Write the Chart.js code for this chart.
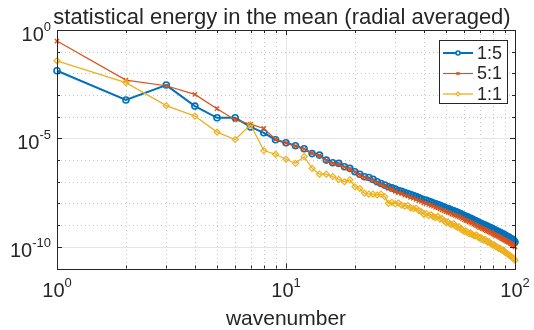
<!DOCTYPE html>
<html>
<head>
<meta charset="utf-8">
<script src="https://cdn.jsdelivr.net/npm/chart.js@4.4.1/dist/chart.umd.min.js"></script>
<style>
  html, body { margin: 0; padding: 0; background: #fff; }
  #wrap { width: 534px; height: 330px; }
</style>
</head>
<body>
<div id="wrap"><canvas id="spectrumChart" width="534" height="330"></canvas></div>
<script>
// wavenumbers 1..100
const wavenumber = Array.from({ length: 100 }, (_, i) => i + 1);

// log10 of the energy
const ratio15Exp = [
  -1.88, -3.23, -2.54, -3.51, -4.05, -4.05, -4.47, -4.74, -5.06, -5.20,
  -5.34, -5.48, -5.70, -5.77, -6.00, -6.12, -6.15, -6.31, -6.38, -6.54,
  -6.65, -6.77, -6.80, -6.89, -7.00, -7.08, -7.15, -7.23, -7.28, -7.34,
  -7.40, -7.44, -7.50, -7.54, -7.59, -7.63, -7.68, -7.73, -7.78, -7.83,
  -7.86, -7.90, -7.94, -7.98, -8.02, -8.05, -8.09, -8.13, -8.17, -8.21,
  -8.24, -8.27, -8.31, -8.34, -8.37, -8.41, -8.44, -8.48, -8.52, -8.56,
  -8.59, -8.62, -8.66, -8.69, -8.72, -8.76, -8.79, -8.82, -8.86, -8.90,
  -8.92, -8.95, -8.98, -9.00, -9.03, -9.06, -9.09, -9.12, -9.14, -9.17,
  -9.20, -9.23, -9.26, -9.28, -9.31, -9.34, -9.36, -9.39, -9.42, -9.45,
  -9.48, -9.51, -9.53, -9.56, -9.59, -9.62, -9.65, -9.68, -9.72, -9.78
];
const ratio51Exp = [
  -0.51, -2.31, -2.57, -2.97, -3.63, -4.15, -4.34, -4.54, -5.04, -5.20,
  -5.37, -5.49, -5.68, -5.80, -6.02, -6.15, -6.21, -6.33, -6.42, -6.56,
  -6.70, -6.80, -6.86, -6.95, -7.05, -7.14, -7.21, -7.30, -7.36, -7.44,
  -7.50, -7.55, -7.62, -7.66, -7.72, -7.76, -7.81, -7.87, -7.91, -7.97,
  -8.00, -8.05, -8.09, -8.13, -8.18, -8.21, -8.25, -8.30, -8.33, -8.38,
  -8.41, -8.44, -8.49, -8.52, -8.55, -8.59, -8.62, -8.66, -8.70, -8.75,
  -8.78, -8.81, -8.85, -8.88, -8.91, -8.96, -8.99, -9.02, -9.06, -9.10,
  -9.12, -9.16, -9.19, -9.21, -9.25, -9.28, -9.31, -9.34, -9.36, -9.40,
  -9.43, -9.46, -9.49, -9.51, -9.54, -9.57, -9.60, -9.63, -9.66, -9.69,
  -9.72, -9.75, -9.77, -9.80, -9.83, -9.86, -9.89, -9.92, -9.95, -10.00
];
const ratio11Exp = [
  -1.42, -2.43, -3.49, -3.97, -4.71, -5.05, -4.37, -5.56, -5.73, -5.96,
  -6.15, -5.84, -6.38, -6.65, -6.65, -6.76, -6.89, -7.00, -6.91, -7.23,
  -7.31, -7.52, -7.57, -7.57, -7.61, -7.57, -7.69, -8.00, -7.95, -8.02,
  -7.98, -8.08, -8.12, -8.10, -8.20, -8.24, -8.22, -8.33, -8.38, -8.50,
  -8.47, -8.56, -8.52, -8.61, -8.66, -8.60, -8.72, -8.70, -8.80, -8.88,
  -8.85, -8.94, -8.98, -8.93, -9.05, -9.10, -9.07, -9.18, -9.22, -9.30,
  -9.26, -9.33, -9.39, -9.36, -9.44, -9.47, -9.50, -9.46, -9.55, -9.60,
  -9.58, -9.66, -9.69, -9.65, -9.74, -9.78, -9.76, -9.84, -9.86, -9.92,
  -9.90, -9.97, -10.00, -10.03, -10.08, -10.06, -10.13, -10.17, -10.15, -10.23,
  -10.26, -10.30, -10.33, -10.37, -10.40, -10.44, -10.48, -10.52, -10.55, -10.62
];

const seriesNames = ['1:5', '5:1', '1:1'];

// ticks
const xMajorTicks = [1, 10, 100];
const xTickExponents = ['0', '1', '2'];
const xMinorTicks = [2, 3, 4, 5, 6, 7, 8, 9, 20, 30, 40, 50, 60, 70, 80, 90];
const yMajorTicks = [1e0, 1e-5, 1e-10];
const yTickExponents = ['0', '-5', '-10'];
const yMinorTicks = [1e-1, 1e-2, 1e-3, 1e-4, 1e-6, 1e-7, 1e-8, 1e-9, 1e-11];

const textColor = '#262626';
const fontFamily = '"Liberation Sans", Arial, Helvetica, sans-serif';

function toPoints(exps) {
    return exps.map((e, i) => ({ x: wavenumber[i], y: Math.pow(10, e) }));
}

// "10" with a raised exponent, like matlab tick labels
function drawPower(ctx, exp, x, baseY, align) {
    ctx.font = '20px ' + fontFamily;
    const wb = ctx.measureText('10').width;
    ctx.font = '13px ' + fontFamily;
    const we = ctx.measureText(exp).width;
    let left = x;
    if (align === 'right') left = x - wb - we;
    if (align === 'center') left = x - (wb + we) / 2;
    ctx.fillStyle = textColor;
    ctx.textAlign = 'left';
    ctx.textBaseline = 'alphabetic';
    ctx.font = '20px ' + fontFamily;
    ctx.fillText('10', left, baseY);
    ctx.font = '13px ' + fontFamily;
    ctx.fillText(exp, left + wb, baseY - 10);
}

const axesPlugin = {
    id: 'matlabAxes',
    beforeDatasetsDraw(chart) {
        const { ctx, chartArea: a, scales: { x, y } } = chart;
        ctx.save();
        // minor grid, dotted
        ctx.strokeStyle = 'rgba(0,0,0,0.22)';
        ctx.lineWidth = 1;
        ctx.setLineDash([1, 3]);
        ctx.beginPath();
        xMinorTicks.forEach(v => {
            const px = Math.round(x.getPixelForValue(v)) + 0.5;
            ctx.moveTo(px, a.top); ctx.lineTo(px, a.bottom);
        });
        yMinorTicks.forEach(v => {
            const py = Math.round(y.getPixelForValue(v)) + 0.5;
            ctx.moveTo(a.left, py); ctx.lineTo(a.right, py);
        });
        ctx.stroke();
        // major grid, solid light
        ctx.setLineDash([]);
        ctx.strokeStyle = '#e4e4e4';
        ctx.beginPath();
        xMajorTicks.forEach(v => {
            const px = Math.round(x.getPixelForValue(v)) + 0.5;
            ctx.moveTo(px, a.top); ctx.lineTo(px, a.bottom);
        });
        yMajorTicks.forEach(v => {
            const py = Math.round(y.getPixelForValue(v)) + 0.5;
            ctx.moveTo(a.left, py); ctx.lineTo(a.right, py);
        });
        ctx.stroke();
        ctx.restore();
    },
    afterDatasetsDraw(chart) {
        const { ctx, chartArea: a, scales: { x, y } } = chart;
        ctx.save();
        ctx.strokeStyle = textColor;
        ctx.lineWidth = 1;
        // box
        ctx.strokeRect(Math.round(a.left) + 0.5, Math.round(a.top) + 0.5,
            Math.round(a.right - a.left), Math.round(a.bottom - a.top));
        // inward ticks on all sides
        ctx.beginPath();
        const xTick = (v, len) => {
            const px = Math.round(x.getPixelForValue(v)) + 0.5;
            ctx.moveTo(px, a.bottom); ctx.lineTo(px, a.bottom - len);
            ctx.moveTo(px, a.top); ctx.lineTo(px, a.top + len);
        };
        const yTick = (v, len) => {
            const py = Math.round(y.getPixelForValue(v)) + 0.5;
            ctx.moveTo(a.left, py); ctx.lineTo(a.left + len, py);
            ctx.moveTo(a.right, py); ctx.lineTo(a.right - len, py);
        };
        xMajorTicks.forEach(v => xTick(v, 5));
        xMinorTicks.forEach(v => xTick(v, 3));
        yMajorTicks.forEach(v => yTick(v, 5));
        yMinorTicks.forEach(v => yTick(v, 3));
        ctx.stroke();

        // tick labels
        xMajorTicks.forEach((v, i) => drawPower(ctx, xTickExponents[i], x.getPixelForValue(v), a.bottom + 28, 'center'));
        yMajorTicks.forEach((v, i) => drawPower(ctx, yTickExponents[i], a.left - 6, y.getPixelForValue(v) + 10.5, 'right'));

        // title and axis label
        ctx.fillStyle = textColor;
        ctx.textAlign = 'center';
        ctx.textBaseline = 'alphabetic';
        ctx.font = '22px ' + fontFamily;
        ctx.fillText('statistical energy in the mean (radial averaged)', 282, 24);
        ctx.font = '21px ' + fontFamily;
        ctx.fillText('wavenumber', (a.left + a.right) / 2, 325);

        // legend box
        const lx = 439.5, ly = 40.5, lw = 68, lh = 63;
        ctx.fillStyle = '#fff';
        ctx.fillRect(lx, ly, lw, lh);
        ctx.strokeStyle = textColor;
        ctx.lineWidth = 1;
        ctx.strokeRect(lx, ly, lw, lh);
        const rows = [53, 73.5, 94];
        chart.data.datasets.forEach((ds, i) => {
            const ry = rows[i];
            ctx.strokeStyle = ds.borderColor;
            ctx.lineWidth = ds.borderWidth;
            ctx.beginPath();
            ctx.moveTo(443, ry); ctx.lineTo(473, ry);
            ctx.stroke();
            ctx.strokeStyle = ds.borderColor;
            ctx.fillStyle = '#fff';
            ctx.lineWidth = ds.pointBorderWidth;
            Chart.helpers.drawPoint(ctx, {
                pointStyle: ds.pointStyle,
                radius: 2,
                borderWidth: ds.pointBorderWidth,
                rotation: 0
            }, 458, ry);
            ctx.fillStyle = textColor;
            ctx.textAlign = 'left';
            ctx.textBaseline = 'middle';
            ctx.font = '18px ' + fontFamily;
            ctx.fillText(ds.label, 477, ry + 1);
        });
        ctx.restore();
    }
};

new Chart(document.getElementById('spectrumChart'), {
    type: 'line',
    data: {
        datasets: [
            {
                label: seriesNames[0],
                data: toPoints(ratio15Exp),
                borderColor: '#0072BD',
                backgroundColor: 'rgba(0,0,0,0)',
                borderWidth: 2,
                pointStyle: 'circle',
                pointRadius: 3,
                pointBorderWidth: 1.6,
                pointBorderColor: '#0072BD',
                pointBackgroundColor: 'rgba(0,0,0,0)',
                order: 3,
                clip: false
            },
            {
                label: seriesNames[1],
                data: toPoints(ratio51Exp),
                borderColor: '#D95319',
                backgroundColor: 'rgba(0,0,0,0)',
                borderWidth: 1.2,
                pointStyle: 'crossRot',
                pointRadius: 3,
                pointBorderWidth: 1.3,
                pointBorderColor: '#D95319',
                order: 2,
                clip: false
            },
            {
                label: seriesNames[2],
                data: toPoints(ratio11Exp),
                borderColor: '#EDB120',
                backgroundColor: 'rgba(0,0,0,0)',
                borderWidth: 1.3,
                pointStyle: 'rectRot',
                pointRadius: 3,
                pointBorderWidth: 1.2,
                pointBorderColor: '#EDB120',
                pointBackgroundColor: 'rgba(0,0,0,0)',
                order: 1,
                clip: false
            }
        ]
    },
    options: {
        responsive: false,
        animation: false,
        devicePixelRatio: 1,
        layout: { padding: { left: 57, right: 19, top: 30, bottom: 61.5 } },
        scales: {
            x: { type: 'logarithmic', min: 1, max: 100, display: false },
            y: { type: 'logarithmic', min: 1e-11, max: 1, display: false }
        },
        plugins: {
            legend: { display: false },
            title: { display: false },
            tooltip: { enabled: false }
        },
        elements: { line: { tension: 0 } }
    },
    plugins: [axesPlugin]
});
</script>
</body>
</html>
